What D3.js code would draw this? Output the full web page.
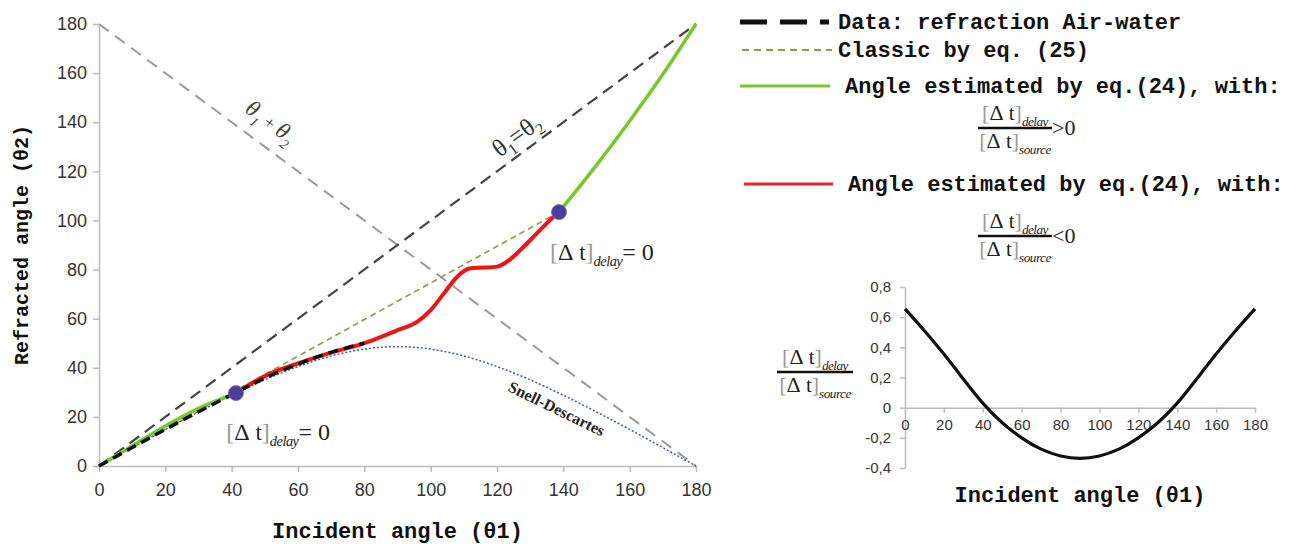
<!DOCTYPE html>
<html>
<head>
<meta charset="utf-8">
<script src="https://cdn.jsdelivr.net/npm/d3@7"></script>
<style>
  html, body { margin: 0; padding: 0; background: #fff; }
  svg { display: block; }
</style>
</head>
<body>
<div id="container"></div>
<script>
const { d3 } = window;

// ticks
const angleTicks = [0, 20, 40, 60, 80, 100, 120, 140, 160, 180];
const ratioTicks = [-0.4, -0.2, 0, 0.2, 0.4, 0.6, 0.8];

// measured air-water refraction
const dataInc = [0, 10, 20, 30, 40, 50, 60, 70, 80];
const dataRef = [0, 7.5, 14.9, 22.1, 29.0, 35.8, 41.5, 46.3, 50.0];

// Snell-Descartes curve
const snellInc = [0, 10, 20, 30, 40, 50, 60, 70, 80, 90, 100, 110, 120, 130, 140, 150, 160, 170, 180];
const snellRef = [0, 7.5, 14.9, 22.0, 28.8, 35.1, 40.5, 44.8, 47.6, 48.6, 47.6, 44.8, 40.5, 35.1, 28.8, 22.0, 14.9, 7.5, 0];

// classic eq. (25)
const classicInc = [0, 138.7];
const classicRef = [0, 103.4];

// eq. (24) with ratio > 0
const greenLowInc = [0, 10, 20, 30, 41.3];
const greenLowRef = [0, 8.2, 16.3, 23.5, 29.7];
const greenHighInc = [138.7, 150, 160, 170, 180];
const greenHighRef = [103.4, 122.5, 140.5, 159.5, 180];

// eq. (24) with ratio < 0
const redInc = [41.3, 50, 60, 70, 80, 90, 96, 100, 104, 108, 112, 116, 120, 123, 127, 132, 136.5, 138.7];
const redRef = [29.7, 36.6, 41.8, 46.2, 50.0, 55.3, 58.8, 63.5, 70.3, 77.1, 80.5, 80.8, 81.2, 83.2, 87.9, 94.7, 100.8, 103.4];

// points where delay = 0
const zeroInc = [41.3, 138.7];
const zeroRef = [29.7, 103.4];

// inset: delay / source ratio
const ratioInc = [0, 10, 20, 30, 40, 50, 60, 70, 80, 90, 100, 110, 120, 130, 140, 150, 160, 170, 180];
const ratioVal = [0.655, 0.51, 0.355, 0.19, 0.03, -0.1, -0.2, -0.275, -0.32, -0.336, -0.32, -0.275, -0.2, -0.1, 0.03, 0.19, 0.355, 0.51, 0.655];

const MONO = '"Liberation Mono", "DejaVu Sans Mono", monospace';
const SERIF = '"Liberation Serif", "DejaVu Serif", serif';
const SANS = '"Liberation Sans", Arial, sans-serif';

const svg = d3.select('#container')
  .append('svg')
  .attr('width', 1306)
  .attr('height', 544);

const x = d3.scaleLinear().domain([0, 180]).range([99, 696]);
const y = d3.scaleLinear().domain([0, 180]).range([466, 24]);

const pts = (xs, ys) => xs.map((v, i) => [v, ys[i]]);
const straight = d3.line().x((d) => x(d[0])).y((d) => y(d[1]));
const line = d3.line().x((d) => x(d[0])).y((d) => y(d[1])).curve(d3.curveMonotoneX);

function styleAxis(g, size) {
  g.select('.domain').attr('stroke', '#bbb').attr('stroke-width', 1.5);
  g.selectAll('.tick line').attr('stroke', '#bbb').attr('stroke-width', 1.5);
  g.selectAll('.tick text').attr('fill', '#333').style('font-family', SANS).style('font-size', `${size}px`);
}

// main axes
svg.append('g')
  .attr('transform', `translate(${x(0)},0)`)
  .call(d3.axisLeft(y).tickValues(angleTicks).tickSize(6).tickSizeOuter(0).tickPadding(6))
  .call((g) => styleAxis(g, 18));

svg.append('g')
  .attr('transform', `translate(0,${y(0)})`)
  .call(d3.axisBottom(x).tickValues(angleTicks).tickSize(6).tickSizeOuter(0).tickPadding(11))
  .call((g) => styleAxis(g, 18));

// reference lines
svg.append('path')
  .attr('d', straight([[0, 180], [180, 0]]))
  .attr('fill', 'none').attr('stroke', '#9a9a9a').attr('stroke-width', 2).attr('stroke-dasharray', '12,8');
svg.append('path')
  .attr('d', straight([[0, 0], [180, 180]]))
  .attr('fill', 'none').attr('stroke', '#444').attr('stroke-width', 2.2).attr('stroke-dasharray', '12,7');
svg.append('path')
  .attr('d', straight(pts(classicInc, classicRef)))
  .attr('fill', 'none').attr('stroke', '#8f9a45').attr('stroke-width', 1.6).attr('stroke-dasharray', '6,4');

svg.append('path')
  .attr('d', line.curve(d3.curveNatural)(pts(snellInc, snellRef)))
  .attr('fill', 'none').attr('stroke', '#3b5ea8').attr('stroke-width', 1.5).attr('stroke-dasharray', '2,2');

line.curve(d3.curveMonotoneX);

// eq. (24) curves
[pts(greenLowInc, greenLowRef), pts(greenHighInc, greenHighRef)].forEach((d) => {
  svg.append('path').attr('d', line(d))
    .attr('fill', 'none').attr('stroke', '#78c82a').attr('stroke-width', 3.5);
});
svg.append('path').attr('d', line(pts(redInc, redRef)))
  .attr('fill', 'none').attr('stroke', '#ee1515').attr('stroke-width', 4);

// data
svg.append('path').attr('d', line(pts(dataInc, dataRef)))
  .attr('fill', 'none').attr('stroke', '#111').attr('stroke-width', 3.5).attr('stroke-dasharray', '10,6');

svg.selectAll('circle.zero')
  .data(pts(zeroInc, zeroRef))
  .join('circle')
  .attr('class', 'zero')
  .attr('cx', (d) => x(d[0]))
  .attr('cy', (d) => y(d[1]))
  .attr('r', 7.5)
  .attr('fill', '#4a3d9c')
  .attr('stroke', '#7c74c0')
  .attr('stroke-width', 1);

// axis titles
svg.append('text')
  .attr('transform', `translate(28,${(y(0) + y(180)) / 2}) rotate(-90)`)
  .attr('text-anchor', 'middle')
  .style('font-family', MONO).style('font-weight', 'bold').style('font-size', '20px')
  .attr('fill', '#111')
  .text('Refracted angle (θ2)');

svg.append('text')
  .attr('x', (x(0) + x(180)) / 2).attr('y', 538)
  .attr('text-anchor', 'middle')
  .style('font-family', MONO).style('font-weight', 'bold').style('font-size', '22px')
  .attr('fill', '#111')
  .text('Incident angle (θ1)');

// annotations
const diagAngle = Math.atan2(y(0) - y(180), x(180) - x(0)) * 180 / Math.PI;

const eqLabel = svg.append('text')
  .attr('transform', `translate(${x(129)},${y(129)}) rotate(${-diagAngle})`)
  .attr('y', -9)
  .attr('text-anchor', 'middle')
  .style('font-family', SERIF).style('font-size', '25px')
  .attr('fill', '#333');
eqLabel.append('tspan').text('θ');
eqLabel.append('tspan').attr('dy', 6).style('font-size', '16px').text('1');
eqLabel.append('tspan').attr('dy', -6).text('=θ');
eqLabel.append('tspan').attr('dy', 6).style('font-size', '16px').text('2');

const sumLabel = svg.append('text')
  .attr('transform', `translate(${x(47.5)},${y(132.5)}) rotate(${diagAngle})`)
  .attr('y', -16)
  .attr('text-anchor', 'middle')
  .style('font-family', SERIF).style('font-size', '23px').style('font-style', 'italic')
  .attr('fill', '#444');
sumLabel.append('tspan').text('θ');
sumLabel.append('tspan').attr('dy', 7).style('font-size', '14px').text('1');
sumLabel.append('tspan').attr('dy', -7).style('font-style', 'normal').style('font-size', '18px').text(' + ');
sumLabel.append('tspan').text('θ');
sumLabel.append('tspan').attr('dy', 7).style('font-size', '14px').text('2');

svg.append('text')
  .attr('transform', `translate(${x(138)},${y(23.4)}) rotate(26)`)
  .attr('text-anchor', 'middle')
  .attr('dy', '0.35em')
  .style('font-family', SERIF).style('font-weight', 'bold').style('font-size', '16px')
  .attr('fill', '#222')
  .text('Snell-Descartes');

// [Δt] term with a subscript
function deltaTerm(text, sub, size) {
  text.append('tspan').attr('fill', '#999').style('font-weight', '100').text('[');
  text.append('tspan').text('Δ');
  text.append('tspan').style('font-size', `${size * 0.95}px`).text(' t');
  text.append('tspan').attr('fill', '#999').text(']');
  text.append('tspan').attr('dy', size * 0.25).style('font-size', `${size * 0.6}px`)
    .style('font-style', 'italic').style('letter-spacing', '-0.5px').text(sub);
  return text;
}

function zeroLabel(inc, ref) {
  const t = svg.append('text')
    .attr('x', x(inc)).attr('y', y(ref))
    .style('font-family', SERIF).style('font-size', '24px')
    .attr('fill', '#222');
  deltaTerm(t, 'delay', 24);
  t.append('tspan').attr('dy', -6).text('= 0');
}
zeroLabel(38.4, 10.6);
zeroLabel(136, 84);

// legend
const legend = svg.append('g');
const legendRows = [
  { y: 22, x1: 740, x2: 829, color: '#111', width: 5, dash: '27,13', text: 'Data: refraction Air-water', tx: 838 },
  { y: 50, x1: 742, x2: 832, color: '#8f9a45', width: 2, dash: '7,5', text: 'Classic by eq. (25)', tx: 838 },
  { y: 86, x1: 740, x2: 830, color: '#78c82a', width: 3, dash: null, text: 'Angle estimated by eq.(24), with:', tx: 845 },
  { y: 184, x1: 744, x2: 833, color: '#ee2222', width: 3, dash: null, text: 'Angle estimated by eq.(24), with:', tx: 848 },
];
legendRows.forEach((r) => {
  legend.append('line')
    .attr('x1', r.x1).attr('x2', r.x2).attr('y1', r.y).attr('y2', r.y)
    .attr('stroke', r.color).attr('stroke-width', r.width)
    .attr('stroke-dasharray', r.dash);
  legend.append('text')
    .attr('x', r.tx).attr('y', r.y).attr('dy', '0.32em')
    .style('font-family', MONO).style('font-weight', 'bold').style('font-size', '22px')
    .attr('fill', '#111')
    .text(r.text);
});

function fraction(cx, lineY, halfWidth, size, tail) {
  const num = svg.append('text')
    .attr('x', cx).attr('y', lineY - 8).attr('text-anchor', 'middle')
    .style('font-family', SERIF).style('font-size', `${size}px`).attr('fill', '#222');
  deltaTerm(num, 'delay', size);
  svg.append('line')
    .attr('x1', cx - halfWidth).attr('x2', cx + halfWidth)
    .attr('y1', lineY).attr('y2', lineY)
    .attr('stroke', '#111').attr('stroke-width', 2.5);
  const den = svg.append('text')
    .attr('x', cx).attr('y', lineY + size - 2).attr('text-anchor', 'middle')
    .style('font-family', SERIF).style('font-size', `${size}px`).attr('fill', '#222');
  deltaTerm(den, 'source', size);
  if (tail) {
    svg.append('text')
      .attr('x', cx + halfWidth).attr('y', lineY + 7)
      .style('font-family', SERIF).style('font-size', `${size}px`).attr('fill', '#222')
      .text(tail);
  }
}
fraction(1015, 128, 37, 22, '>0');
fraction(1015, 236, 37, 22, '<0');

// inset
const xi = d3.scaleLinear().domain([0, 180]).range([905, 1255]);
const yi = d3.scaleLinear().domain([-0.4, 0.8]).range([468, 287]);
const fmt = (v) => (v === 0 ? '0' : d3.format('.1f')(v).replace('.', ',').replace('−', '-'));

svg.append('g')
  .attr('transform', `translate(${xi(0)},0)`)
  .call(d3.axisLeft(yi).tickValues(ratioTicks).tickFormat(fmt).tickSize(5).tickSizeOuter(0).tickPadding(9))
  .call((g) => styleAxis(g, 15));

svg.append('g')
  .attr('transform', `translate(0,${yi(0)})`)
  .call(d3.axisBottom(xi).tickValues(angleTicks).tickSize(5).tickSizeOuter(0).tickPadding(7))
  .call((g) => styleAxis(g, 15));

svg.append('path')
  .attr('d', d3.line().x((d) => xi(d[0])).y((d) => yi(d[1])).curve(d3.curveNatural)(pts(ratioInc, ratioVal)))
  .attr('fill', 'none').attr('stroke', '#111').attr('stroke-width', 3.2);

fraction(815, 372, 38, 22, null);

svg.append('text')
  .attr('x', (xi(0) + xi(180)) / 2).attr('y', 502)
  .attr('text-anchor', 'middle')
  .style('font-family', MONO).style('font-weight', 'bold').style('font-size', '22px')
  .attr('fill', '#111')
  .text('Incident angle (θ1)');
</script>
</body>
</html>
